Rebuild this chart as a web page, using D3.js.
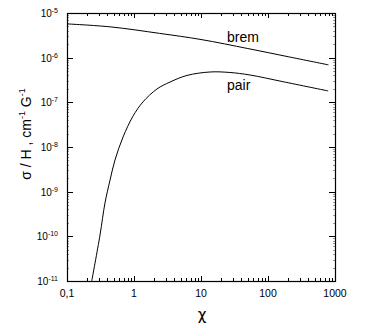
<!DOCTYPE html>
<html>
<head>
<meta charset="utf-8">
<script src="https://cdn.jsdelivr.net/npm/d3@7"></script>
<style>
  body { margin: 0; background: white; }
  text { font-family: "Liberation Sans", Arial, sans-serif; fill: black; }
</style>
</head>
<body>
<div id="chart"></div>
<script>
const width = 380, height = 332;
const margin = { left: 67, right: 45, top: 13, bottom: 51 };

// curve data
const brem_chi = [0.1, 0.44, 2.4, 10, 50, 200, 800];
const brem_sigma = [5.7e-6, 4.9e-6, 3.5e-6, 2.55e-6, 1.6e-6, 1.05e-6, 6.9e-7];
const pair_chi = [0.234, 0.311, 0.369, 0.439, 0.52, 0.686, 0.966, 1.36, 2.2, 3.45, 6.18, 13.6, 27, 54, 167, 790];
const pair_sigma = [1e-11, 1.07e-10, 5.6e-10, 1.82e-9, 5.1e-9, 1.67e-8, 4.9e-8, 1.02e-7, 1.99e-7, 2.85e-7, 4.0e-7, 4.78e-7, 4.66e-7, 4.09e-7, 2.9e-7, 1.8e-7];

const x_ticks = [0.1, 1, 10, 100, 1000];
const x_tick_labels = ["0,1", "1", "10", "100", "1000"];
const y_exponents = [-5, -6, -7, -8, -9, -10, -11];

var svg = d3.select("#chart").append("svg")
    .attr("width", width)
    .attr("height", height);

var x = d3.scaleLog().domain([0.1, 1000]).range([margin.left, width - margin.right]);
var y = d3.scaleLog().domain([1e-11, 1e-5]).range([height - margin.bottom, margin.top]);

// minor ticks
var minor_x = [], minor_y = [];
for (var e = -1; e < 3; e++) for (var k = 2; k < 10; k++) minor_x.push(k * Math.pow(10, e));
for (var e = -11; e < -5; e++) for (var k = 2; k < 10; k++) minor_y.push(k * Math.pow(10, e));

var g_ticks = svg.append("g").attr("stroke", "black").attr("stroke-width", 1);
var x0 = x.range()[0], x1 = x.range()[1], y0 = y.range()[0], y1 = y.range()[1];

minor_x.forEach(function (v) {
    var px = Math.round(x(v)) + 0.5;
    g_ticks.append("line").attr("x1", px).attr("x2", px).attr("y1", y0).attr("y2", y0 - 3);
    g_ticks.append("line").attr("x1", px).attr("x2", px).attr("y1", y1).attr("y2", y1 + 3);
});
x_ticks.forEach(function (v) {
    var px = Math.round(x(v)) + 0.5;
    g_ticks.append("line").attr("x1", px).attr("x2", px).attr("y1", y0).attr("y2", y0 - 5);
    g_ticks.append("line").attr("x1", px).attr("x2", px).attr("y1", y1).attr("y2", y1 + 5);
});
minor_y.forEach(function (v) {
    var py = Math.round(y(v)) + 0.5;
    g_ticks.append("line").attr("x1", x0).attr("x2", x0 + 2).attr("y1", py).attr("y2", py).attr("stroke", "#999");
    g_ticks.append("line").attr("x1", x1).attr("x2", x1 - 2).attr("y1", py).attr("y2", py).attr("stroke", "#999");
});
y_exponents.forEach(function (e) {
    var py = Math.round(y(Math.pow(10, e))) + 0.5;
    g_ticks.append("line").attr("x1", x0).attr("x2", x0 + 6).attr("y1", py).attr("y2", py);
    g_ticks.append("line").attr("x1", x1).attr("x2", x1 - 6).attr("y1", py).attr("y2", py);
});

// frame
svg.append("rect")
    .attr("x", x0 + 0.5).attr("y", y1 + 0.5)
    .attr("width", x1 - x0).attr("height", y0 - y1)
    .attr("fill", "none").attr("stroke", "black").attr("stroke-width", 1.2);

// tick labels
x_ticks.forEach(function (v, i) {
    svg.append("text").attr("x", x(v)).attr("y", y0 + 16)
        .attr("text-anchor", "middle").style("font-size", "10.5px")
        .text(x_tick_labels[i]);
});
y_exponents.forEach(function (e) {
    var t = svg.append("text").attr("x", x0 - 9).attr("y", y(Math.pow(10, e)) + 4)
        .attr("text-anchor", "end").style("font-size", "10px");
    t.append("tspan").text("10");
    t.append("tspan").attr("dy", -4).style("font-size", "7px").text(e);
});

// axis titles
svg.append("text").attr("x", 202).attr("y", 320)
    .attr("text-anchor", "middle").style("font-size", "15px")
    .style("font-family", "DejaVu Sans, sans-serif").text("χ");

var yt = svg.append("text")
    .attr("transform", "translate(31,134) rotate(-90)")
    .attr("text-anchor", "middle").style("font-size", "14px");
yt.append("tspan").text("σ / H , cm");
yt.append("tspan").attr("dy", -6).style("font-size", "9px").text("-1");
yt.append("tspan").attr("dy", 6).text(" G");
yt.append("tspan").attr("dy", -6).style("font-size", "9px").text("-1");

// curves
svg.append("clipPath").attr("id", "plot_clip").append("rect")
    .attr("x", x0).attr("y", y1).attr("width", x1 - x0).attr("height", y0 - y1);

var line = d3.line()
    .x(function (d) { return x(d[0]); })
    .y(function (d) { return y(d[1]); })
    .curve(d3.curveCatmullRom.alpha(0.5));

svg.append("path")
    .datum(d3.zip(brem_chi, brem_sigma))
    .attr("d", line)
    .attr("fill", "none").attr("stroke", "black").attr("stroke-width", 1)
    .attr("clip-path", "url(#plot_clip)");

svg.append("path")
    .datum(d3.zip(pair_chi, pair_sigma))
    .attr("d", line)
    .attr("fill", "none").attr("stroke", "black").attr("stroke-width", 1)
    .attr("clip-path", "url(#plot_clip)");

svg.append("text").attr("x", 227).attr("y", 42).style("font-size", "14px").text("brem");
svg.append("text").attr("x", 227).attr("y", 90).style("font-size", "14px").text("pair");
</script>
</body>
</html>
